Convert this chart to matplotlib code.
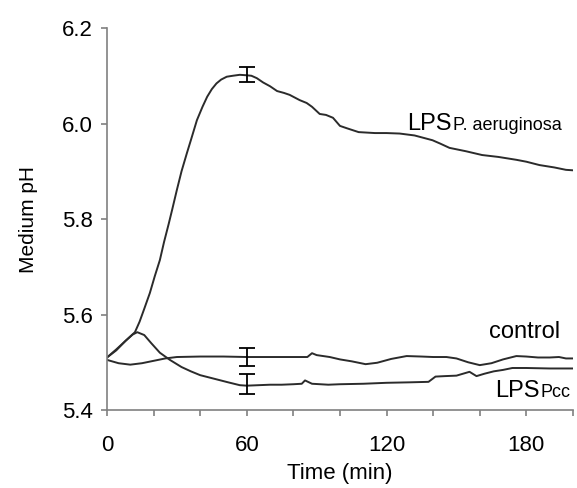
import matplotlib
matplotlib.use("Agg")
import matplotlib.pyplot as plt
from matplotlib.ticker import MultipleLocator, FormatStrFormatter

plt.rcParams['font.family'] = ['Liberation Sans', 'DejaVu Sans']

# time (min) and medium pH for each series
t_aer = [0, 4, 8, 12, 14, 16, 18.4, 20.5, 22.7, 24.5, 26.5, 28, 30, 32, 34.3, 36, 38.6, 41, 43, 45, 47, 49, 51.4, 54, 57, 60, 62, 64.3, 67, 70, 73, 76, 78.4, 82.7, 85.7, 88, 91.3, 94, 97, 100, 103, 108, 115, 120, 125.6, 132, 139.7, 143, 147, 154, 161, 168, 175.7, 180, 185.6, 192, 197, 200]
ph_aer = [5.51, 5.525, 5.545, 5.563, 5.585, 5.612, 5.645, 5.68, 5.714, 5.752, 5.79, 5.82, 5.861, 5.90, 5.938, 5.965, 6.007, 6.035, 6.056, 6.072, 6.084, 6.092, 6.098, 6.100, 6.102, 6.101, 6.100, 6.095, 6.086, 6.078, 6.068, 6.064, 6.06, 6.049, 6.043, 6.035, 6.02, 6.018, 6.012, 5.995, 5.99, 5.982, 5.98, 5.98, 5.979, 5.975, 5.965, 5.958, 5.949, 5.942, 5.934, 5.93, 5.924, 5.92, 5.913, 5.908, 5.903, 5.902]

t_ctl = [0, 5, 10, 15, 20, 25, 30, 40, 50, 60, 70, 80, 86, 88, 90, 95.6, 100, 105, 111, 116, 122, 128.6, 135, 140, 145.7, 150, 155, 160, 165, 170, 175.7, 180, 185, 190, 194, 197, 200]
ph_ctl = [5.505, 5.498, 5.495, 5.498, 5.503, 5.508, 5.511, 5.512, 5.512, 5.511, 5.511, 5.511, 5.511, 5.519, 5.515, 5.511, 5.506, 5.502, 5.496, 5.499, 5.507, 5.513, 5.512, 5.511, 5.511, 5.508, 5.500, 5.494, 5.498, 5.506, 5.513, 5.512, 5.510, 5.510, 5.511, 5.508, 5.508]

t_pcc = [0, 4, 8, 11, 13, 16, 19, 22.7, 27, 32, 36, 40, 44, 48, 52, 57, 60, 65, 70, 75, 80, 83.6, 85, 88, 95, 100, 110, 120, 130, 138, 141, 145, 150, 155.6, 158.6, 162, 166, 170, 174, 180, 190, 200]
ph_pcc = [5.51, 5.527, 5.545, 5.558, 5.563, 5.557, 5.54, 5.52, 5.505, 5.49, 5.481, 5.473, 5.468, 5.463, 5.458, 5.452, 5.451, 5.452, 5.453, 5.453, 5.454, 5.455, 5.462, 5.455, 5.453, 5.454, 5.455, 5.457, 5.458, 5.459, 5.47, 5.471, 5.472, 5.48, 5.471, 5.476, 5.481, 5.484, 5.488, 5.488, 5.487, 5.487]

# error bars at t = 60
err_t = [60, 60, 60]
err_lo = [6.087, 5.492, 5.434]
err_hi = [6.118, 5.530, 5.475]

fig = plt.figure(figsize=(5.77, 4.88), dpi=100)
ax = fig.add_axes([0.1854, 0.1598, 0.8076, 0.7828])

lc = '#2b2b2b'
for t, p in [(t_aer, ph_aer), (t_ctl, ph_ctl), (t_pcc, ph_pcc)]:
    ax.plot(t, p, color=lc, lw=1.4)

for x, lo, hi in zip(err_t, err_lo, err_hi):
    mid = (lo + hi) / 2
    ax.errorbar([x], [mid], yerr=[[mid - lo], [hi - mid]], fmt='none',
                ecolor='black', elinewidth=1.3, capsize=5.5, capthick=1.3)

ax.set_xlim(0, 200)
ax.set_ylim(5.4, 6.2)
ax.xaxis.set_major_locator(MultipleLocator(60))
ax.xaxis.set_minor_locator(MultipleLocator(20))
ax.yaxis.set_major_locator(MultipleLocator(0.2))
ax.yaxis.set_major_formatter(FormatStrFormatter('%.1f'))

for s in ['top', 'right']:
    ax.spines[s].set_visible(False)
for s in ['left', 'bottom']:
    ax.spines[s].set_color('#808080')
    ax.spines[s].set_linewidth(1.2)

ax.tick_params(which='both', direction='out', length=4.3, color='#808080', width=1.2)
ax.tick_params(axis='both', labelsize=16, labelcolor='black')
ax.tick_params(axis='y', pad=6)
ax.tick_params(axis='x', pad=14)

ax.set_xlabel('Time (min)', fontsize=16, labelpad=5)
ax.set_ylabel('Medium pH', fontsize=15, labelpad=17)

# series labels (main text + subscript on the same baseline)
def label(x, y, main, sub, size=17, subsize=13):
    tx = ax.text(x, y, main, fontsize=size, ha='left', va='baseline', clip_on=False)
    ax.annotate(sub, xy=(1, y), xycoords=(tx, 'data'), xytext=(0.5, 0),
                textcoords='offset points', fontsize=subsize, ha='left', va='baseline',
                annotation_clip=False)

label(129, 5.986, 'LPS', 'P. aeruginosa')
ax.text(164.1, 5.551, 'control', fontsize=17, ha='left', va='baseline')
label(166.7, 5.428, 'LPS', 'Pcc')

fig.savefig('out.png', dpi=100)
